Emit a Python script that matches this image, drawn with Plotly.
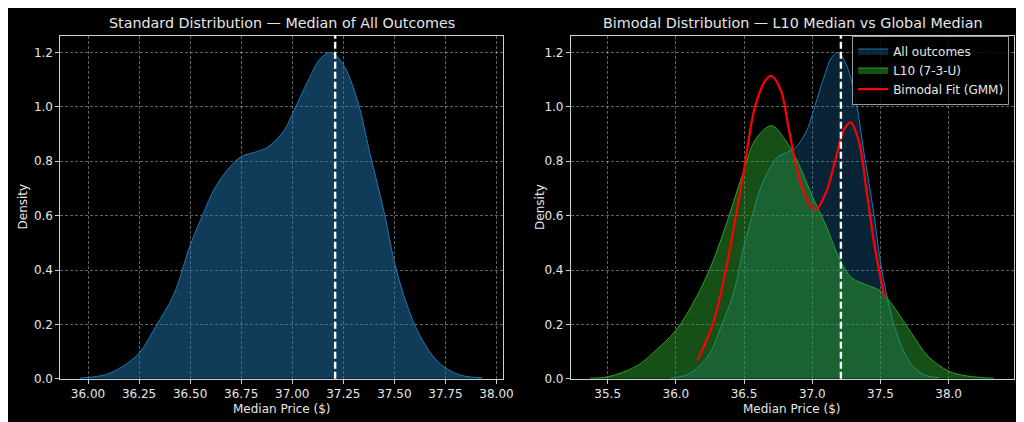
import plotly.graph_objects as go

# KDE of the median price over all outcomes
all_x = [35.96, 36.09, 36.17, 36.25, 36.33, 36.42, 36.50, 36.56, 36.62, 36.69,
         36.75, 36.82, 36.88, 36.96, 37.00, 37.08, 37.14, 37.19, 37.25, 37.32,
         37.38, 37.45, 37.50, 37.56, 37.62, 37.69, 37.75, 37.83, 37.93]
all_y = [0.002, 0.016, 0.046, 0.094, 0.19, 0.31, 0.49, 0.60, 0.70, 0.775,
         0.817, 0.834, 0.852, 0.913, 0.973, 1.10, 1.18, 1.20, 1.155, 1.022,
         0.83, 0.612, 0.43, 0.275, 0.166, 0.082, 0.04, 0.012, 0.004]

# KDE of the L10 (7-3-U) subset
l10_x = [35.37, 35.50, 35.71, 35.83, 36.00, 36.15, 36.27, 36.39, 36.50, 36.58,
         36.70, 36.80, 36.90, 37.00, 37.10, 37.21, 37.29, 37.39, 37.50, 37.60,
         37.73, 37.85, 38.00, 38.14, 38.33]
l10_y = [0.002, 0.007, 0.046, 0.094, 0.178, 0.30, 0.43, 0.60, 0.77, 0.877,
         0.931, 0.88, 0.79, 0.672, 0.564, 0.431, 0.371, 0.347, 0.323, 0.263,
         0.166, 0.082, 0.028, 0.01, 0.002]

# two-component gaussian mixture fit
gmm_x = [36.16, 36.27, 36.37, 36.44, 36.50, 36.58, 36.66, 36.70, 36.77, 36.83,
         36.90, 36.98, 37.03, 37.10, 37.17, 37.23, 37.28, 37.34, 37.40, 37.46, 37.53]
gmm_y = [0.07, 0.20, 0.41, 0.60, 0.77, 1.00, 1.10, 1.114, 1.06, 0.913,
         0.745, 0.642, 0.625, 0.684, 0.805, 0.913, 0.943, 0.877, 0.684, 0.48, 0.30]

median_price = 37.21

left_title = "Standard Distribution — Median of All Outcomes"
right_title = "Bimodal Distribution — L10 Median vs Global Median"

W, H = 1024, 422
FONT = "DejaVu Sans"
TXT = "#e6e6e6"
BLUE = "#1f77b4"
GREEN = "#2ca02c"

fig = go.Figure()

fig.add_trace(go.Scatter(x=all_x, y=all_y, fill="tozeroy", mode="lines",
                         line=dict(color=BLUE, width=1, shape="spline"),
                         fillcolor="rgba(31,119,180,0.5)", showlegend=False,
                         xaxis="x", yaxis="y"))

fig.add_trace(go.Scatter(x=all_x, y=all_y, fill="tozeroy", mode="lines",
                         line=dict(color=BLUE, width=1, shape="spline"),
                         fillcolor="rgba(31,119,180,0.3)", name="All outcomes",
                         xaxis="x2", yaxis="y2"))
fig.add_trace(go.Scatter(x=l10_x, y=l10_y, fill="tozeroy", mode="lines",
                         line=dict(color=GREEN, width=1, shape="spline"),
                         fillcolor="rgba(44,160,44,0.5)", name="L10 (7-3-U)",
                         xaxis="x2", yaxis="y2"))
fig.add_trace(go.Scatter(x=gmm_x, y=gmm_y, mode="lines",
                         line=dict(color="red", width=2.2, shape="spline"),
                         name="Bimodal Fit (GMM)", xaxis="x2", yaxis="y2"))

# dashed median lines
for xr in ["x", "x2"]:
    fig.add_shape(type="line", xref=xr, yref="paper", x0=median_price, x1=median_price,
                  y0=1 - 377 / H, y1=1 - 28 / H,
                  line=dict(color="white", width=2.4, dash="7px,3px"))

grid = "rgba(255,255,255,0.38)"
axis_common = dict(showline=True, linecolor="#cfcfcf", linewidth=1, mirror=True,
                   ticks="outside", ticklen=4, tickcolor="#cfcfcf",
                   showgrid=True, gridcolor=grid, griddash="3px,2px", gridwidth=0.8,
                   zeroline=False, tickfont=dict(size=12, color=TXT, family=FONT))

ydom = [1 - 377 / H, 1 - 28 / H]
fig.update_layout(
    width=W, height=H,
    paper_bgcolor="black", plot_bgcolor="black",
    margin=dict(l=0, r=0, t=0, b=0),
    font=dict(family=FONT, color=TXT, size=12),
    xaxis=dict(domain=[53 / W, 500 / W], range=[35.865, 38.03],
               tick0=36, dtick=0.25, tickformat=".2f", anchor="y", **axis_common),
    yaxis=dict(domain=ydom, range=[0, 1.2625], dtick=0.2, tickformat=".1f",
               anchor="x", **axis_common),
    xaxis2=dict(domain=[569 / W, 1017 / W], range=[35.23, 38.48],
                tick0=35.5, dtick=0.5, tickformat=".1f", anchor="y2", **axis_common),
    yaxis2=dict(domain=ydom, range=[0, 1.2625], dtick=0.2, tickformat=".1f",
                anchor="x2", **axis_common),
    legend=dict(x=1012 / W, y=1 - 28 / H, xanchor="right", yanchor="top",
                bgcolor="rgba(0,0,0,0.8)", bordercolor="#999999", borderwidth=1,
                font=dict(size=12, color=TXT, family=FONT),
                itemwidth=30, tracegroupgap=0),
)

annotations = [
    dict(text=left_title, x=276.5 / W, y=1 - 15 / H, size=14.3),
    dict(text=right_title, x=793 / W, y=1 - 15 / H, size=14.3),
    dict(text="Median Price ($)", x=276.5 / W, y=1 - 408 / H),
    dict(text="Median Price ($)", x=793 / W, y=1 - 408 / H),
    dict(text="Density", x=15 / W, y=1 - 202 / H, angle=-90),
    dict(text="Density", x=537 / W, y=1 - 202 / H, angle=-90),
]
for a in annotations:
    fig.add_annotation(text=a["text"], x=a["x"], y=a["y"], xref="paper", yref="paper",
                       xanchor="center", yanchor="middle", showarrow=False,
                       textangle=a.get("angle", 0),
                       font=dict(size=a.get("size", 12), color=TXT, family=FONT))

fig.write_html("out.html")
